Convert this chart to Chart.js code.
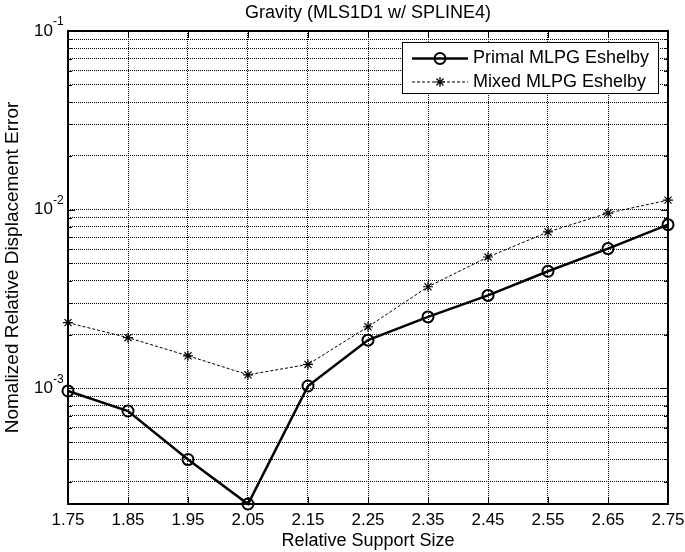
<!DOCTYPE html>
<html><head><meta charset="utf-8">
<script src="https://cdn.jsdelivr.net/npm/chart.js@4.4.1/dist/chart.umd.min.js"></script>
<style>html,body{margin:0;padding:0;background:#fff}#wrap{width:685px;height:552px}</style>
</head><body><div id="wrap"><canvas id="c" width="685" height="552"></canvas></div>
<script>
// ---- data ----
const supportSizes = [1.75, 1.85, 1.95, 2.05, 2.15, 2.25, 2.35, 2.45, 2.55, 2.65, 2.75];
const primalErrors = [9.66e-4, 7.46e-4, 3.99e-4, 2.25e-4, 1.03e-3, 1.86e-3, 2.51e-3, 3.31e-3, 4.52e-3, 6.05e-3, 8.24e-3];
const mixedErrors  = [2.33e-3, 1.92e-3, 1.52e-3, 1.19e-3, 1.36e-3, 2.21e-3, 3.70e-3, 5.43e-3, 7.50e-3, 9.57e-3, 1.13e-2];
const xTickLabels = ['1.75', '1.85', '1.95', '2.05', '2.15', '2.25', '2.35', '2.45', '2.55', '2.65', '2.75'];
const yDecadeExponents = [-3, -2, -1];
const yMin = 2.25e-4, yMax = 1e-1;
const seriesNames = ['Primal MLPG Eshelby', 'Mixed MLPG Eshelby'];
const titleText = 'Gravity (MLS1D1 w/ SPLINE4)';
const xTitleText = 'Relative Support Size';
const yTitleText = 'Nomalized Relative Displacement Error';

const FONT = "'Liberation Sans', Arial, Helvetica, sans-serif";
const FS = 18;      // titles, legend
const FT = 17;      // tick labels

function drawStar(ctx, x, y, r) {
  ctx.beginPath();
  for (let k = 0; k < 4; k++) {
    const a = k * Math.PI / 4;
    const dx = Math.cos(a) * r, dy = Math.sin(a) * r;
    ctx.moveTo(x - dx, y - dy); ctx.lineTo(x + dx, y + dy);
  }
  ctx.stroke();
}

const decor = {
  id: 'decor',
  afterDatasetsDraw(chart) {
    const ctx = chart.ctx, ca = chart.chartArea;
    const xs = chart.scales.x, ys = chart.scales.y;
    ctx.save();
    ctx.strokeStyle = '#000';
    ctx.setLineDash([]);
    ctx.lineWidth = 1;
    xs.ticks.forEach(t => {
      const px = Math.round(xs.getPixelForValue(t.value)) + 0.5;
      ctx.beginPath();
      ctx.moveTo(px, ca.bottom); ctx.lineTo(px, ca.bottom - 7);
      ctx.moveTo(px, ca.top); ctx.lineTo(px, ca.top + 7);
      ctx.stroke();
    });
    ys.ticks.forEach(t => {
      const py = Math.round(ys.getPixelForValue(t.value)) + 0.5;
      const len = t.major ? 7 : 4;
      ctx.beginPath();
      ctx.moveTo(ca.left, py); ctx.lineTo(ca.left + len, py);
      ctx.moveTo(ca.right, py); ctx.lineTo(ca.right - len, py);
      ctx.stroke();
    });
    ctx.lineWidth = 2;
    ctx.strokeRect(ca.left, ca.top, ca.right - ca.left, ca.bottom - ca.top);
    ctx.restore();
  },
  afterDraw(chart) {
    const ctx = chart.ctx, ca = chart.chartArea;
    const ys = chart.scales.y;
    ctx.save();
    ctx.fillStyle = '#000';
    // title centred over the plot area
    ctx.font = FS + 'px ' + FONT;
    ctx.textAlign = 'center'; ctx.textBaseline = 'middle';
    ctx.fillText(titleText, (ca.left + ca.right) / 2, 13);
    // y decade labels 10^e
    yDecadeExponents.forEach(e => {
      const py = ys.getPixelForValue(Math.pow(10, e));
      ctx.font = FT + 'px ' + FONT;
      ctx.textAlign = 'right'; ctx.textBaseline = 'middle';
      ctx.fillText('10', ca.left - 15, py);
      ctx.font = '12px ' + FONT;
      ctx.textAlign = 'left';
      ctx.fillText(String(e), ca.left - 15, py - 9);
    });
    // legend
    const lw = 256, lh = 51;
    const lx = ca.right - 10 - lw, ly = ca.top + 11;
    ctx.fillStyle = '#fff';
    ctx.fillRect(lx, ly, lw, lh);
    ctx.strokeStyle = '#000'; ctx.lineWidth = 1;
    ctx.strokeRect(lx + 0.5, ly + 0.5, lw, lh);
    const rows = [ly + 16.5, ly + 40];
    chart.data.datasets.forEach((ds, i) => {
      const cy = rows[i];
      ctx.strokeStyle = '#000';
      ctx.lineWidth = ds.borderWidth;
      ctx.setLineDash(ds.borderDash || []);
      ctx.beginPath(); ctx.moveTo(lx + 10, cy); ctx.lineTo(lx + 66, cy); ctx.stroke();
      ctx.setLineDash([]);
      ctx.lineWidth = ds.pointBorderWidth;
      if (ds.pointStyle === 'circle') {
        ctx.beginPath(); ctx.arc(lx + 38, cy, ds.pointRadius, 0, Math.PI * 2); ctx.stroke();
      } else {
        drawStar(ctx, lx + 38, cy, ds.pointRadius);
      }
      ctx.fillStyle = '#000';
      ctx.font = FS + 'px ' + FONT;
      ctx.textAlign = 'left'; ctx.textBaseline = 'middle';
      ctx.fillText(ds.label, lx + 71, cy);
    });
    ctx.restore();
  }
};

const gridOpts = { color: '#000', lineWidth: 1, drawTicks: false };
const dashBorder = { display: false, dash: [1, 1] };

new Chart(document.getElementById('c'), {
  type: 'line',
  data: {
    datasets: [
      {
        label: seriesNames[0],
        data: supportSizes.map((x, i) => ({ x: x, y: primalErrors[i] })),
        borderColor: '#000', borderWidth: 2.5, fill: false, tension: 0,
        pointStyle: 'circle', pointRadius: 5.5, pointBorderWidth: 2,
        pointBackgroundColor: 'rgba(0,0,0,0)', pointBorderColor: '#000',
        clip: false
      },
      {
        label: seriesNames[1],
        data: supportSizes.map((x, i) => ({ x: x, y: mixedErrors[i] })),
        borderColor: '#000', borderWidth: 1, borderDash: [3, 2], fill: false, tension: 0,
        pointStyle: 'star', pointRadius: 5, pointBorderWidth: 1.2,
        pointBackgroundColor: '#000', pointBorderColor: '#000',
        clip: false
      }
    ]
  },
  options: {
    responsive: false,
    animation: false,
    devicePixelRatio: 1,
    layout: { padding: { left: 0, right: 17, top: 31, bottom: 0 } },
    plugins: {
      legend: { display: false },
      tooltip: { enabled: false },
      title: { display: false }
    },
    scales: {
      x: {
        type: 'linear', min: 1.75, max: 2.75,
        afterBuildTicks(s) { s.ticks = supportSizes.map(v => ({ value: v })); },
        afterFit(s) { s.height = 48; s.paddingLeft = 0; s.paddingRight = 0; },
        ticks: {
          callback: (v, i) => xTickLabels[i], color: '#000',
          font: { family: FONT, size: FT }, padding: 6, maxRotation: 0, autoSkip: false
        },
        grid: gridOpts, border: dashBorder,
        title: { display: true, text: xTitleText, color: '#000', font: { family: FONT, size: FS }, padding: { top: 0, bottom: 0 } }
      },
      y: {
        type: 'logarithmic', min: yMin, max: yMax,
        afterBuildTicks(s) {
          const t = [];
          for (let e = -4; e <= -1; e++) {
            for (let m = 1; m <= 9; m++) {
              const v = m * Math.pow(10, e);
              if (v >= yMin * 0.999 && v <= yMax * 1.001) t.push({ value: v, major: m === 1 });
            }
          }
          s.ticks = t;
        },
        afterFit(s) { s.width = 68; },
        ticks: { display: false },
        grid: gridOpts, border: dashBorder,
        title: { display: true, text: yTitleText, color: '#000', font: { family: FONT, size: 19 }, padding: { top: 1, bottom: 0 } }
      }
    }
  },
  plugins: [decor]
});
</script>
</body></html>
